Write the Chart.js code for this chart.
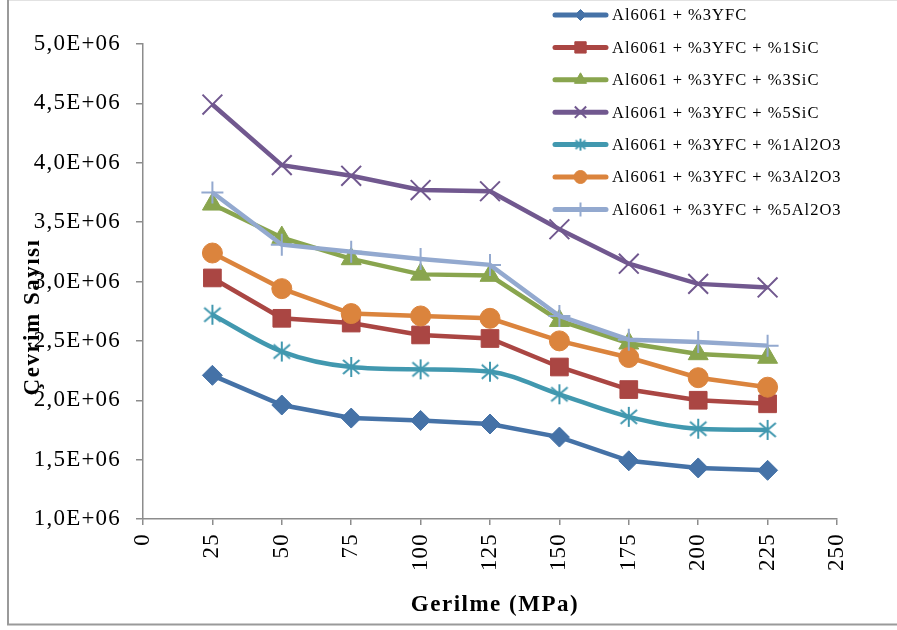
<!DOCTYPE html>
<html>
<head>
<meta charset="utf-8">
<title>Gerilme - Çevrim Sayısı</title>
<script src="https://cdn.jsdelivr.net/npm/chart.js@4.4.0/dist/chart.umd.min.js"></script>
<style>
  html, body { margin: 0; padding: 0; background: #fff; }
  #wrap { width: 897px; height: 630px; }
</style>
</head>
<body>
<div id="wrap"><canvas id="fatigue" width="897" height="630"></canvas></div>
<script>
// stress levels (MPa)
const stress = [25, 50, 75, 100, 125, 150, 175, 200, 225];

// cycles to failure for each composite
const yfc       = [2.21e6, 1.96e6, 1.85e6, 1.83e6, 1.80e6, 1.69e6, 1.49e6, 1.43e6, 1.41e6];
const sic1      = [3.03e6, 2.69e6, 2.65e6, 2.55e6, 2.52e6, 2.28e6, 2.09e6, 2.00e6, 1.97e6];
const sic3      = [3.65e6, 3.37e6, 3.19e6, 3.06e6, 3.05e6, 2.67e6, 2.48e6, 2.39e6, 2.36e6];
const sic5      = [4.49e6, 3.98e6, 3.89e6, 3.77e6, 3.76e6, 3.44e6, 3.15e6, 2.98e6, 2.95e6];
const al2o3_1   = [2.72e6, 2.41e6, 2.28e6, 2.26e6, 2.24e6, 2.05e6, 1.86e6, 1.76e6, 1.75e6];
const al2o3_3   = [3.24e6, 2.94e6, 2.73e6, 2.71e6, 2.69e6, 2.50e6, 2.36e6, 2.19e6, 2.11e6];
const al2o3_5   = [3.75e6, 3.31e6, 3.25e6, 3.19e6, 3.14e6, 2.71e6, 2.51e6, 2.49e6, 2.46e6];

const seriesNames = [
  'Al6061 + %3YFC',
  'Al6061 + %3YFC + %1SiC',
  'Al6061 + %3YFC + %3SiC',
  'Al6061 + %3YFC + %5SiC',
  'Al6061 + %3YFC + %1Al2O3',
  'Al6061 + %3YFC + %3Al2O3',
  'Al6061 + %3YFC + %5Al2O3'
];
const seriesValues = [yfc, sic1, sic3, sic5, al2o3_1, al2o3_3, al2o3_5];

// y axis ticks
const yMin = 1e6, yMax = 5e6, yStep = 5e5;
// x axis ticks
const xMin = 0, xMax = 250, xStep = 25;

const SERIF = '"Liberation Serif", "Times New Roman", serif';
const AXIS = '#8c8c8c';

// asterisk marker (x plus a vertical bar)
function makeStar(r, color, lw) {
  const c = document.createElement('canvas');
  const s = Math.ceil(2 * r + lw + 2);
  c.width = s; c.height = s;
  const g = c.getContext('2d');
  const m = s / 2;
  g.strokeStyle = color;
  g.lineWidth = lw;
  g.lineCap = 'butt';
  g.beginPath();
  g.moveTo(m, m - r); g.lineTo(m, m + r);
  g.moveTo(m - r * 0.82, m - r * 0.7); g.lineTo(m + r * 0.82, m + r * 0.7);
  g.moveTo(m - r * 0.82, m + r * 0.7); g.lineTo(m + r * 0.82, m - r * 0.7);
  g.stroke();
  return c;
}

const styles = [
  { color: '#4572A7', point: 'rectRot',  radius: 10,   bw: 1, legendR: 5.5 },
  { color: '#AA4643', point: 'rect',     radius: 12.5, bw: 1, legendR: 8 },
  { color: '#89A54E', point: 'triangle', radius: 11.5, bw: 1, legendR: 7 },
  { color: '#71588F', point: 'crossRot', radius: 14,   bw: 2, legendR: 8 },
  { color: '#4198AF', point: 'star',     radius: 10,   bw: 2, legendR: 6, smooth: true },
  { color: '#DB843D', point: 'circle',   radius: 10,   bw: 1, legendR: 6.5 },
  { color: '#93A9CF', point: 'cross',    radius: 11,   bw: 2, legendR: 7 }
];
styles[4].image = makeStar(10, styles[4].color, 2);
styles[4].legendImage = makeStar(6, styles[4].color, 2);

const datasets = seriesNames.map((name, i) => {
  const st = styles[i];
  return {
    label: name,
    data: stress.map((x, k) => ({ x: x, y: seriesValues[i][k] })),
    borderColor: st.color,
    backgroundColor: st.color,
    borderWidth: 4.5,
    pointStyle: st.image || st.point,
    pointRadius: st.radius,
    pointHoverRadius: st.radius,
    pointBackgroundColor: st.color,
    pointBorderColor: st.color,
    pointBorderWidth: st.bw,
    cubicInterpolationMode: st.smooth ? 'monotone' : 'default',
    tension: 0,
    order: 10 - i
  };
});

const fmtSci = v => (v / 1e6).toFixed(1).replace('.', ',') + 'E+06';

const framePlugin = {
  id: 'frame',
  beforeDraw(chart) {
    chart.ctx.letterSpacing = '1.2px';
  },
  afterDraw(chart) {
    const ctx = chart.ctx;
    ctx.save();
    ctx.letterSpacing = '0px';

    // outer frame
    ctx.strokeStyle = '#e2e2e2';
    ctx.lineWidth = 1;
    ctx.beginPath(); ctx.moveTo(7, 0.5); ctx.lineTo(897, 0.5); ctx.stroke();
    ctx.strokeStyle = '#9a9a9a';
    ctx.lineWidth = 2;
    ctx.beginPath();
    ctx.moveTo(8, 0); ctx.lineTo(8, 624.5); ctx.lineTo(897, 624.5);
    ctx.stroke();

    // axis titles
    ctx.fillStyle = '#000';
    ctx.font = 'bold 23px ' + SERIF;
    ctx.letterSpacing = '1.5px';
    ctx.textAlign = 'center';
    ctx.textBaseline = 'middle';
    ctx.fillText('Gerilme (MPa)', 495, 605);
    ctx.save();
    ctx.translate(33, 317);
    ctx.rotate(-Math.PI / 2);
    ctx.fillText('Çevrim Sayısı', 0, 0);
    ctx.restore();

    // legend
    const dp = Chart.helpers && Chart.helpers.drawPoint;
    ctx.font = '16.5px ' + SERIF;
    ctx.letterSpacing = '1px';
    ctx.textAlign = 'left';
    chart.data.datasets.forEach((ds, i) => {
      const st = styles[i];
      const y = 15 + i * 32.4;
      ctx.strokeStyle = st.color;
      ctx.fillStyle = st.color;
      ctx.lineWidth = 5;
      ctx.lineCap = 'round';
      ctx.beginPath(); ctx.moveTo(555, y); ctx.lineTo(606, y); ctx.stroke();
      ctx.lineCap = 'butt';
      if (st.legendImage) {
        const im = st.legendImage;
        ctx.drawImage(im, 580.5 - im.width / 2, y - im.height / 2);
      } else if (dp) {
        ctx.lineWidth = st.bw;
        dp(ctx, { pointStyle: st.point, radius: st.legendR, borderWidth: st.bw, rotation: 0 }, 580.5, y);
      }
      ctx.fillStyle = '#000';
      ctx.textBaseline = 'middle';
      ctx.fillText(ds.label, 612, y + 1);
    });
    ctx.restore();
  }
};

new Chart(document.getElementById('fatigue'), {
  type: 'line',
  data: { datasets: datasets },
  options: {
    responsive: false,
    animation: false,
    events: [],
    layout: { padding: { top: 44, right: 60, bottom: 0, left: 0 } },
    plugins: { legend: { display: false }, tooltip: { enabled: false } },
    scales: {
      x: {
        type: 'linear',
        min: xMin, max: xMax,
        afterFit(scale) { scale.height = 111; },
        ticks: {
          stepSize: xStep,
          minRotation: 90, maxRotation: 90,
          padding: 8,
          color: '#000',
          font: { family: SERIF, size: 23 }
        },
        grid: { drawOnChartArea: false, drawTicks: true, tickLength: 6, color: AXIS, lineWidth: 1.5 },
        border: { color: AXIS, width: 1.5 }
      },
      y: {
        min: yMin, max: yMax,
        afterFit(scale) { scale.width = 143; },
        ticks: {
          stepSize: yStep,
          padding: 15,
          color: '#000',
          font: { family: SERIF, size: 23 },
          callback: v => fmtSci(v)
        },
        grid: { drawOnChartArea: false, drawTicks: true, tickLength: 7, color: AXIS, lineWidth: 1.5 },
        border: { color: AXIS, width: 1.5 }
      }
    }
  },
  plugins: [framePlugin]
});
</script>
</body>
</html>
